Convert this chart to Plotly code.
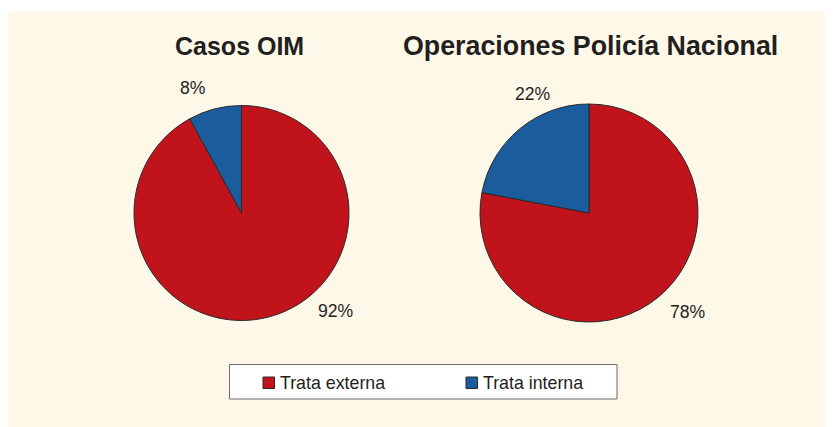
import plotly.graph_objects as go

W, H = 833, 427
OFF = 8  # page body margin offset of the rendered figure

# ---- data ----
categories = ["Trata externa", "Trata interna"]
oim_values = [92, 8]
policia_values = [78, 22]
chart_titles = ["Casos OIM", "Operaciones Policía Nacional"]
colors = ["#C1131C", "#1B5C9D"]

CREAM = "#FEF8E9"
TXT = "#231F20"
FONT = "Liberation Sans, Arial, sans-serif"


def px(x):
    return (x - OFF) / W


def py(y):
    return 1 - (y - OFF) / H


fig = go.Figure()

# pie 1
fig.add_trace(go.Pie(
    labels=categories, values=oim_values, sort=False, direction="clockwise",
    rotation=0, textinfo="none", hoverinfo="label+percent",
    marker=dict(colors=colors, line=dict(color="#2a2a2a", width=1)),
    domain=dict(x=[px(134), px(349)], y=[py(320.5), py(105.5)]),
    showlegend=False,
))
# pie 2
fig.add_trace(go.Pie(
    labels=categories, values=policia_values, sort=False, direction="clockwise",
    rotation=0, textinfo="none", hoverinfo="label+percent",
    marker=dict(colors=colors, line=dict(color="#2a2a2a", width=1)),
    domain=dict(x=[px(480), px(698)], y=[py(322), py(104)]),
    showlegend=False,
))

shapes = [
    # cream panel
    dict(type="rect", xref="paper", yref="paper", x0=px(8), x1=1.0, y0=0, y1=py(11),
         fillcolor=CREAM, line=dict(width=0), layer="below"),
    # legend box
    dict(type="rect", xref="paper", yref="paper", x0=px(229.5), x1=px(617), y0=py(399), y1=py(364.5),
         fillcolor="white", line=dict(color="#6b6b6b", width=1), layer="below"),
]
# legend swatches
sw_x = [263, 466]
for i, cat in enumerate(categories):
    shapes.append(dict(type="rect", xref="paper", yref="paper",
                       x0=px(sw_x[i]), x1=px(sw_x[i] + 11.5), y0=py(388.5), y1=py(377),
                       fillcolor=colors[i], line=dict(color="#2a2a2a", width=1)))

annotations = []
# titles
title_pos = [(239, 46, 25), (590, 46, 26.8)]
for t, (x, y, s) in zip(chart_titles, title_pos):
    annotations.append(dict(text=f"<b>{t}</b>", x=px(x), y=py(y), xref="paper", yref="paper",
                            xanchor="center", yanchor="middle", showarrow=False,
                            font=dict(family=FONT, size=s, color=TXT)))
# percent labels
label_pos = {
    ("oim", 0): (336, 311), ("oim", 1): (193, 88),
    ("pol", 0): (687.5, 312), ("pol", 1): (533, 94),
}
for key, vals in (("oim", oim_values), ("pol", policia_values)):
    tot = sum(vals)
    for i, v in enumerate(vals):
        x, y = label_pos[(key, i)]
        annotations.append(dict(text=f"{round(100 * v / tot)}%", x=px(x), y=py(y),
                                xref="paper", yref="paper", xanchor="center", yanchor="middle",
                                showarrow=False, font=dict(family=FONT, size=17.6, color=TXT)))
# legend texts
txt_x = [277.5, 480.5]
for i, cat in enumerate(categories):
    annotations.append(dict(text=cat, x=px(txt_x[i]), y=py(382.5), xref="paper", yref="paper",
                            xanchor="left", yanchor="middle", showarrow=False,
                            font=dict(family=FONT, size=17.8, color=TXT)))

fig.update_layout(
    width=W, height=H, margin=dict(l=0, r=0, t=0, b=0),
    paper_bgcolor="white", plot_bgcolor="white",
    shapes=shapes, annotations=annotations, showlegend=False,
)

fig.write_html("out.html")
